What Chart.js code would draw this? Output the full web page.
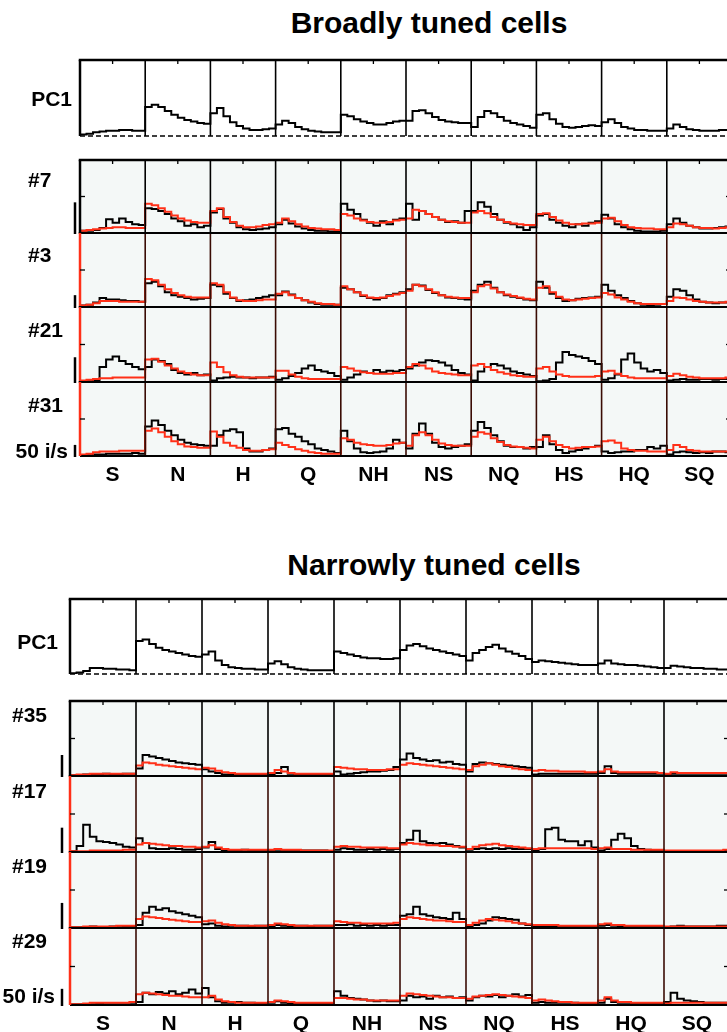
<!DOCTYPE html>
<html>
<head>
<meta charset="utf-8">
<script src="https://cdn.jsdelivr.net/npm/chart.js@4.4.1/dist/chart.umd.min.js"></script>
<style>
  html, body { margin: 0; padding: 0; background: #fff; overflow: hidden; }
  #fig { position: relative; width: 727px; height: 1032px; overflow: hidden; }
  #fig canvas { position: absolute; left: 0; }
  .title { position: absolute; font: 700 30px "Liberation Sans", Arial, sans-serif; white-space: nowrap; transform: translateX(-50%); }
</style>
</head>
<body>
<div id="fig">
  <div class="title" style="left:429px; top:6px">Broadly tuned cells</div>
  <div class="title" style="left:434px; top:548px">Narrowly tuned cells</div>
</div>
<script>
// --- categorias (eixo x) ---
const categories = ['S', 'N', 'H', 'Q', 'NH', 'NS', 'NQ', 'HS', 'HQ', 'SQ'];

// valores em % da altura de cada linha, 10 bins por categoria
// ===== Broadly tuned =====
const broadPC1 = [
  [2,3,5,6,7,7,8,8,7,7], [38,41,38,33,28,24,21,19,17,16], [30,37,26,18,13,10,8,8,9,10],
  [15,20,17,12,9,7,6,5,5,5], [28,26,22,19,17,15,15,17,19,20], [20,33,34,30,25,21,19,18,17,17],
  [12,25,33,30,25,20,17,15,13,11], [28,30,22,16,12,11,12,13,14,13], [18,22,17,12,10,8,8,7,7,7],
  [10,15,12,9,8,7,7,7,8,8]
];
const broad7Black = [
  [3,3,4,7,19,14,20,15,12,11], [34,33,30,26,20,16,10,12,8,10], [28,33,20,14,8,5,4,5,6,8],
  [12,18,13,9,6,4,3,3,2,2], [40,32,26,18,14,10,16,12,18,20], [40,18,30,26,22,18,15,16,14,30],
  [30,42,36,26,18,14,12,8,4,8], [24,26,18,14,10,8,12,10,14,16], [25,20,12,8,5,3,2,2,2,3],
  [12,20,14,10,8,6,6,7,8,9]
];
const broad7Red = [
  [3,4,5,6,7,8,8,7,7,7], [40,38,34,29,24,20,17,15,14,14], [30,34,22,15,10,8,8,9,11,12],
  [14,20,16,12,9,7,6,5,5,4], [26,24,20,17,15,14,14,15,17,18], [20,32,30,26,22,18,16,15,14,14],
  [28,30,27,22,18,15,13,12,11,11], [26,27,22,17,14,12,12,13,13,14], [20,21,16,11,8,7,6,6,5,5],
  [8,13,12,10,8,7,7,6,7,8]
];
const broad3Black = [
  [2,3,6,12,10,10,9,8,8,7], [32,34,28,20,16,14,12,10,11,12], [30,28,18,12,8,9,10,12,14,16],
  [16,21,17,12,9,6,4,3,3,3], [26,24,20,15,12,10,12,16,18,20], [24,30,29,23,19,16,13,12,11,10],
  [22,30,34,26,20,16,14,12,10,9], [34,26,18,12,8,9,11,12,13,14], [30,22,16,12,8,5,3,2,3,4],
  [14,24,22,16,10,7,6,5,6,6]
];
const broad3Red = [
  [2,3,5,8,8,8,7,7,7,7], [38,36,30,24,19,16,14,13,13,13], [32,30,20,13,9,8,8,9,10,10],
  [18,20,16,12,9,7,5,4,4,3], [28,24,20,16,13,12,13,15,17,19], [22,30,28,24,20,16,14,13,12,12],
  [20,28,30,25,20,17,15,13,11,10], [26,28,20,14,10,9,10,11,12,13], [19,17,13,10,7,5,4,4,4,4],
  [8,13,12,10,8,7,6,6,6,7]
];
const broad21Black = [
  [0,1,2,20,30,34,28,24,20,17], [20,30,28,24,16,12,10,12,9,10], [2,5,6,7,6,6,5,6,6,7],
  [3,5,8,12,18,22,16,14,12,8], [3,6,10,14,12,16,13,15,14,16], [18,22,26,29,28,26,22,16,12,10],
  [2,14,20,24,22,18,14,12,10,8], [1,2,4,26,40,36,34,32,28,24], [3,5,10,30,38,26,18,14,16,12],
  [2,3,4,3,3,4,4,3,4,4]
];
const broad21Red = [
  [2,3,4,5,5,6,6,6,6,6], [30,31,27,22,18,14,12,10,9,9], [26,20,13,9,7,6,6,6,6,6],
  [15,15,10,7,5,4,4,4,4,4], [20,18,15,13,12,11,11,11,12,12], [20,24,22,18,14,12,11,10,9,9],
  [22,24,20,16,13,11,9,8,7,7], [18,20,14,10,8,7,7,7,7,8], [14,15,11,8,6,5,5,5,5,5],
  [8,11,9,7,6,5,5,5,5,6]
];
const broad31Black = [
  [1,1,2,2,3,3,3,3,4,3], [40,48,42,34,28,22,18,16,15,14], [14,28,34,36,32,10,6,6,8,10],
  [36,38,30,26,20,16,10,8,6,4], [34,20,10,5,4,5,6,10,22,18], [10,30,44,30,18,12,10,12,14,16],
  [34,46,38,28,20,14,12,12,10,12], [12,28,16,8,4,6,8,10,12,14], [6,4,5,6,6,8,8,12,10,14],
  [2,5,6,5,4,5,4,6,6,5]
];
const broad31Red = [
  [2,3,5,6,6,6,7,7,7,7], [34,37,32,26,20,16,13,12,11,11], [33,26,18,14,11,8,7,7,8,9],
  [18,15,12,9,7,5,4,3,3,3], [24,22,18,16,15,14,14,15,17,18], [14,28,32,28,22,17,15,14,14,14],
  [26,32,30,24,19,15,13,12,11,10], [22,26,20,15,12,10,11,12,12,13], [20,21,18,10,8,7,7,6,6,6],
  [8,15,12,8,7,6,6,6,6,6]
];
const broadCells = ['#7', '#3', '#21', '#31'];
const broadBars = [42, 16, 33, 15];   // barra de 50 i/s, em % da linha

// ===== Narrowly tuned =====
const narrowPC1 = [
  [1,2,4,8,8,7,7,6,6,5], [44,46,40,35,32,30,28,26,24,23], [26,30,18,12,9,8,7,7,6,6],
  [14,17,13,9,7,6,5,5,5,5], [30,28,26,24,22,21,21,20,20,21], [32,38,40,37,34,32,30,28,26,24],
  [18,28,32,36,39,34,30,27,24,20], [16,18,17,16,15,14,13,12,12,12], [14,18,14,13,12,12,11,10,9,8],
  [8,11,10,9,8,8,7,7,6,6]
];
const narrow35Black = [
  [1,1,2,2,2,3,2,2,3,3], [10,28,26,24,22,20,18,17,16,15], [9,6,4,2,2,2,2,2,2,2],
  [2,4,12,3,2,2,2,2,2,2], [6,2,3,4,5,6,6,7,8,12], [22,30,24,22,20,21,18,19,16,15],
  [6,16,18,17,16,15,14,13,12,11], [2,3,3,3,3,3,3,3,3,3], [4,13,4,3,3,3,3,3,3,3],
  [2,3,3,3,3,3,3,3,3,3]
];
const narrow35Red = [
  [1,2,2,3,3,3,3,3,3,3], [14,18,17,15,14,13,12,11,10,9], [11,10,7,5,4,3,3,3,3,3],
  [4,8,6,4,3,3,3,3,3,3], [12,11,10,9,9,8,8,8,9,9], [15,17,16,15,14,13,12,11,10,9],
  [8,13,15,17,15,13,12,10,9,8], [7,8,7,7,6,6,6,6,5,5], [6,9,6,5,5,5,5,5,5,4],
  [3,5,4,4,4,4,4,4,4,4]
];
const narrow17Black = [
  [1,8,36,20,14,13,12,10,7,6], [18,12,5,4,4,5,4,3,3,4], [6,13,4,2,2,2,3,2,2,2],
  [2,3,2,2,2,2,2,2,2,1], [3,5,4,3,3,4,3,4,3,4], [12,16,28,14,12,11,12,10,8,6],
  [3,4,5,4,5,4,5,4,4,4], [2,4,30,32,16,14,14,9,14,6], [2,4,16,24,18,8,4,3,2,2],
  [1,1,1,1,1,1,1,1,1,2]
];
const narrow17Red = [
  [1,1,1,2,2,2,2,2,3,3], [10,12,11,10,9,8,8,7,7,6], [7,9,6,4,3,3,3,3,3,3],
  [3,4,3,3,3,2,2,2,2,2], [7,8,7,7,6,6,6,6,5,5], [10,12,11,10,9,9,8,8,7,7],
  [4,7,9,10,11,9,8,7,6,5], [4,5,5,5,5,5,5,5,5,4], [5,6,4,4,4,3,3,3,3,3],
  [2,2,2,2,2,2,2,2,2,3]
];
const narrow19Black = [
  [1,1,1,2,1,1,2,1,2,2], [4,20,28,24,26,22,20,18,16,14], [5,6,3,2,3,3,3,2,3,3],
  [2,4,3,2,3,3,2,3,3,3], [4,4,5,3,4,3,4,3,4,4], [16,18,28,18,16,14,13,12,20,12],
  [2,4,6,10,14,13,12,11,6,4], [2,2,2,2,2,2,2,2,2,2], [3,4,3,2,2,2,2,2,2,2],
  [1,2,3,2,2,2,2,2,3,3]
];
const narrow19Red = [
  [1,1,2,2,2,2,2,3,3,3], [12,15,14,13,12,11,10,9,8,8], [9,10,7,5,4,3,3,3,3,3],
  [4,6,5,4,3,3,3,3,3,3], [9,8,7,7,6,6,6,6,6,7], [12,14,13,12,11,10,10,9,8,8],
  [4,7,10,12,11,10,9,7,6,5], [4,4,4,4,3,3,3,3,3,3], [5,6,4,4,3,3,3,3,3,3],
  [2,2,2,2,2,2,2,2,2,2]
];
const narrow29Black = [
  [1,1,1,1,2,1,1,1,1,1], [4,16,14,17,15,18,14,16,20,15], [22,10,5,3,3,4,3,3,2,2],
  [3,5,3,2,2,2,2,2,2,2], [18,12,9,8,7,6,5,6,5,5], [6,12,10,11,8,12,10,11,9,10],
  [6,10,12,11,13,10,12,14,11,13], [3,4,3,3,3,3,3,2,2,2], [3,8,4,3,3,2,2,2,2,2],
  [4,16,8,6,5,4,3,3,3,3]
];
const narrow29Red = [
  [1,1,2,3,3,3,3,3,3,4], [14,16,15,14,13,12,12,11,10,10], [10,12,7,5,4,3,3,3,3,3],
  [4,6,5,4,3,3,3,3,3,3], [9,9,8,7,7,6,6,6,6,6], [12,15,14,13,12,11,10,10,9,9],
  [8,11,12,13,14,13,12,11,10,9], [6,7,6,5,4,4,3,3,3,3], [6,10,6,4,4,3,3,3,3,3],
  [2,3,3,3,3,3,3,3,3,3]
];
const narrowCells = ['#35', '#17', '#19', '#29'];
const narrowBars = [28, 32, 33, 21];

// --- estilo ---
const FONT = '700 21px "Liberation Sans", Arial, sans-serif';
const BLACK = '#000000';
const RED = '#ff3018';
const CELL_BG = '#f4f8f7';
const CANVAS_W = 740;

// bins -> pontos {x,y} (x em unidades de categoria)
function toPoints(vals) {
  const flat = vals.flat();
  const n = flat.length;
  const pts = flat.map((v, i) => ({ x: i * categories.length / n, y: v }));
  pts.push({ x: categories.length, y: flat[n - 1] });
  return pts;
}

// desenha molduras, divisórias, rótulos, barra de escala
const decor = {
  id: 'panelDecor',
  beforeDatasetsDraw(chart, args, o) {
    if (!o.bg) return;
    const { ctx, chartArea: a } = chart;
    ctx.save();
    ctx.fillStyle = o.bg;
    ctx.fillRect(a.left, a.top, a.right - a.left, a.bottom - a.top);
    ctx.restore();
  },
  afterDatasetsDraw(chart, args, o) {
    const { ctx, chartArea: a, scales: { x, y } } = chart;
    const seg = (x1, y1, x2, y2) => { ctx.beginPath(); ctx.moveTo(x1, y1); ctx.lineTo(x2, y2); ctx.stroke(); };
    ctx.save();
    // divisórias entre categorias
    ctx.strokeStyle = o.sepColor;
    ctx.lineWidth = 1.6;
    for (let i = 1; i <= categories.length; i++) {
      const px = x.getPixelForValue(i);
      seg(px, a.top, px, a.bottom);
    }
    // linha de base
    const y0 = y.getPixelForValue(0);
    ctx.strokeStyle = BLACK;
    if (o.dashed) {
      ctx.setLineDash([5, 3]);
      ctx.lineWidth = 1.6;
      seg(a.left, y0, a.right, y0);
      ctx.setLineDash([]);
    } else {
      ctx.lineWidth = 2;
      seg(a.left, y0, a.right, y0);
    }
    // moldura superior
    if (o.top) {
      ctx.lineWidth = o.topTicks ? 2.5 : 2;
      seg(a.left - 1.25, a.top, a.right, a.top);
      if (o.topTicks) {
        ctx.lineWidth = 1.3;
        categories.forEach((c, i) => {
          const px = x.getPixelForValue(i + 0.5);
          seg(px, a.top, px, a.top + 4);
        });
      }
    }
    // moldura esquerda
    ctx.strokeStyle = o.leftColor;
    ctx.lineWidth = 2.5;
    seg(a.left, a.top, a.left, a.bottom);
    // ticks no meio da altura
    if (o.midTick) {
      ctx.strokeStyle = BLACK;
      ctx.lineWidth = 1.3;
      const ym = y.getPixelForValue(50);
      seg(a.left, ym, a.left + 5, ym);
      seg(a.right - 6, ym, a.right, ym);
    }
    // barra de escala
    if (o.bar) {
      ctx.strokeStyle = BLACK;
      ctx.lineWidth = 2.5;
      const bx = a.left - o.barGap;
      seg(bx, y0 + 1, bx, y.getPixelForValue(o.bar));
    }
    // textos
    ctx.fillStyle = BLACK;
    ctx.font = FONT;
    ctx.textBaseline = 'middle';
    ctx.textAlign = o.labelAlign;
    ctx.fillText(o.label, o.labelX, a.top + o.labelDy);
    if (o.unit) {
      ctx.textAlign = 'right';
      ctx.fillText(o.unit, o.unitX, a.top + o.unitDy);
    }
    if (o.cats) {
      ctx.textAlign = 'center';
      categories.forEach((c, i) => ctx.fillText(c, x.getPixelForValue(i + 0.5), a.bottom + o.catDy));
    }
    ctx.restore();
  }
};

const fig = document.getElementById('fig');

function addRow(p) {
  const padTop = 10;
  const padBottom = p.padBottom || 8;
  const c = document.createElement('canvas');
  c.width = CANVAS_W;
  c.height = padTop + p.h + padBottom;
  c.style.top = (p.top - padTop) + 'px';
  fig.appendChild(c);

  const datasets = p.series.map(s => ({
    data: toPoints(s.values),
    borderColor: s.color,
    borderWidth: s.width,
    stepped: true,
    pointRadius: 0,
    fill: false,
    order: s.order
  }));

  new Chart(c, {
    type: 'line',
    data: { datasets: datasets },
    options: {
      responsive: false,
      animation: false,
      events: [],
      layout: { padding: { left: p.x0, right: CANVAS_W - p.x0 - categories.length * p.colW, top: padTop, bottom: padBottom } },
      scales: {
        x: { type: 'linear', min: 0, max: categories.length, display: false },
        y: { min: 0, max: 100, display: false }
      },
      plugins: {
        legend: { display: false },
        tooltip: { enabled: false },
        panelDecor: p.decor
      }
    },
    plugins: [decor]
  });
}

function addPanel(cfg) {
  // PC1
  addRow({
    top: cfg.pc1Top, h: cfg.pc1H, x0: cfg.x0, colW: cfg.colW,
    series: [{ values: cfg.pc1, color: BLACK, width: 2, order: 0 }],
    decor: {
      dashed: true, top: true, topTicks: true, leftColor: BLACK, sepColor: BLACK,
      label: 'PC1', labelAlign: 'right', labelX: cfg.pc1LabelX, labelDy: cfg.pc1LabelDy
    }
  });
  // células
  cfg.cells.forEach((name, r) => {
    const last = r === cfg.cells.length - 1;
    addRow({
      top: cfg.rowTops[r], h: cfg.rowTops[r + 1] - cfg.rowTops[r], x0: cfg.x0, colW: cfg.colW,
      padBottom: last ? 40 : 8,
      series: [
        { values: cfg.red[r], color: RED, width: 2, order: 0 },
        { values: cfg.black[r], color: BLACK, width: 2, order: 1 }
      ],
      decor: {
        bg: CELL_BG, top: true, topTicks: r === 0,
        leftColor: r === 0 ? BLACK : RED, sepColor: r === 0 ? BLACK : '#3a0c04',
        midTick: true, bar: cfg.bars[r], barGap: cfg.barGap,
        label: name, labelAlign: 'left', labelX: cfg.cellLabelX, labelDy: cfg.cellLabelDy[r],
        unit: last ? '50 i/s' : null, unitX: cfg.unitX, unitDy: cfg.unitDy,
        cats: last, catDy: 19
      }
    });
  });
}

addPanel({
  x0: 80, colW: 65.2,
  pc1Top: 60, pc1H: 76, pc1: broadPC1, pc1LabelX: 72, pc1LabelDy: 40,
  rowTops: [160, 233, 307, 382, 456],
  cells: broadCells, bars: broadBars, barGap: 5,
  black: [broad7Black, broad3Black, broad21Black, broad31Black],
  red: [broad7Red, broad3Red, broad21Red, broad31Red],
  cellLabelX: 28, cellLabelDy: [21, 23, 24, 24],
  unitX: 68, unitDy: 70
});

addPanel({
  x0: 70, colW: 66,
  pc1Top: 599, pc1H: 75, pc1: narrowPC1, pc1LabelX: 58, pc1LabelDy: 44,
  rowTops: [701, 776, 852, 928, 1005],
  cells: narrowCells, bars: narrowBars, barGap: 8,
  black: [narrow35Black, narrow17Black, narrow19Black, narrow29Black],
  red: [narrow35Red, narrow17Red, narrow19Red, narrow29Red],
  cellLabelX: 12, cellLabelDy: [15, 16, 15, 14],
  unitX: 55, unitDy: 69
});
</script>
</body>
</html>
